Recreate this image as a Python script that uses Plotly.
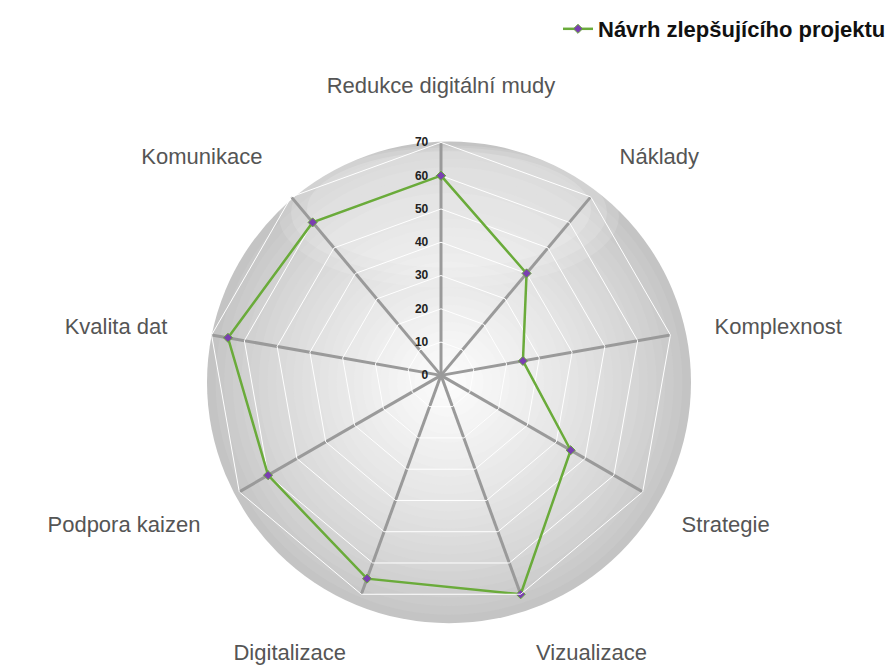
import plotly.graph_objects as go

categories = ["Redukce digitální mudy", "Náklady", "Komplexnost", "Strategie",
              "Vizualizace", "Digitalizace", "Podpora kaizen", "Kvalita dat", "Komunikace"]
values = [60, 40, 25, 45, 70, 65, 60, 65, 60]
series_name = "Návrh zlepšujícího projektu"
radial_ticks = [0, 10, 20, 30, 40, 50, 60, 70]

W, H = 894, 670
cx, cy, R = 441, 373, 234
dx_fix, dy_fix = -8, -7  # plotly centres the polygon slightly differently

fig = go.Figure()
fig.add_trace(go.Scatterpolar(
    r=values + values[:1], theta=categories + categories[:1],
    mode="lines+markers", name=series_name,
    line=dict(color="#6aab3a", width=2.5),
    marker=dict(symbol="diamond", size=7, color="#7a3fb0",
                line=dict(color="#6aab3a", width=1)),
))

# radial-gradient backdrop (concentric discs)
shapes = []
n = 28
Rb = 242
for i in range(n):
    rr = Rb * (1 - i / n)
    t = i / (n - 1)
    g = int(196 + (252 - 196) * (t ** 0.75))
    shapes.append(dict(type="circle", xref="paper", yref="paper",
                       x0=(cx - rr) / W, x1=(cx + rr) / W,
                       y0=1 - (cy + rr) / H, y1=1 - (cy - rr) / H,
                       fillcolor=f"rgb({g},{g},{g})", line=dict(width=0), layer="below"))
# soft highlight at top
for hw, top, bot, op in [(170, 238, 95, 0.12), (158, 236, 105, 0.14), (142, 232, 115, 0.16)]:
    shapes.append(dict(type="circle", xref="paper", yref="paper",
                       x0=(cx - hw) / W, x1=(cx + hw) / W,
                       y0=1 - (cy - bot) / H, y1=1 - (cy - top) / H,
                       fillcolor=f"rgba(255,255,255,{op})", line=dict(width=0), layer="below"))

pcx, pcy = cx + dx_fix, cy + dy_fix
fig.update_layout(
    width=W, height=H,
    margin=dict(l=0, r=0, t=0, b=0),
    paper_bgcolor="white",
    font=dict(family="Liberation Sans, Arial, sans-serif"),
    shapes=shapes,
    showlegend=True,
    legend=dict(x=550 / W, y=1 + 3 / H, xanchor="left", yanchor="top",
                font=dict(size=22, color="#111", weight="bold"),
                bgcolor="rgba(0,0,0,0)"),
    polar=dict(
        domain=dict(x=[(pcx - R) / W, (pcx + R) / W], y=[1 - (pcy + R) / H, 1 - (pcy - R) / H]),
        bgcolor="rgba(0,0,0,0)",
        gridshape="linear",
        radialaxis=dict(range=[0, 70], tickvals=radial_ticks, angle=90, tickangle=90,
                        side="counterclockwise",
                        showline=False, gridcolor="white", gridwidth=1,
                        ticks="outside", ticklen=8, tickcolor="rgba(0,0,0,0)",
                        tickfont=dict(size=12, color="#222", weight="bold")),
        angularaxis=dict(rotation=90, direction="clockwise",
                         showline=True, linecolor="white", linewidth=1,
                         gridcolor="#9a9a9a", gridwidth=2.5,
                         ticks="outside", ticklen=40, tickcolor="rgba(0,0,0,0)",
                         tickfont=dict(size=22, color="#555555")),
    ),
)

fig.write_html("out.html")
